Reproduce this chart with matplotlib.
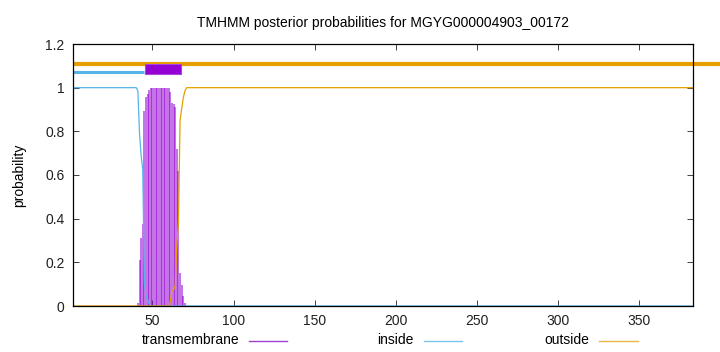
import numpy as np
import matplotlib
matplotlib.use("Agg")
import matplotlib.pyplot as plt
from matplotlib.patches import Rectangle

plt.rcParams['font.family'] = ['Liberation Sans', 'DejaVu Sans']

seq_len = 383
residues = np.arange(1, seq_len + 1)

# posterior probabilities (transition region only, runs elsewhere)
tm_vals = ([0.0] * 40 +
           [0.015, 0.21, 0.31, 0.375, 0.895, 0.956, 0.97, 0.99] +          # 41-48
           [1.0] * 12 +                                                   # 49-60
           [0.98, 0.93, 0.925, 0.91, 0.72, 0.62, 0.15, 0.096, 0.046, 0.015] +  # 61-70
           [0.0] * (seq_len - 70))
inside_vals = ([1.0] * 40 +
               [0.985, 0.79, 0.69, 0.625, 0.105, 0.044, 0.03, 0.01] +     # 41-48
               [0.0] * (seq_len - 48))
outside_vals = ([0.0] * 60 +
                [0.02, 0.07, 0.075, 0.09, 0.28, 0.38, 0.85, 0.904, 0.954, 0.985] +  # 61-70
                [1.0] * (seq_len - 70))

# predicted topology (start, end)
inside_seg = (1, 45)
tm_seg = (45.5, 67.5)
outside_seg = (1, 400)

tm_color = '#9400d3'
in_color = '#56b4e9'
out_color = '#e69f00'

fig = plt.figure(figsize=(7.2, 3.52), dpi=100)
ax = fig.add_axes([73 / 720, 46 / 352, 619.7 / 720, 262 / 352])

ax.vlines(residues, 0, tm_vals, color=tm_color, linewidth=1.2, alpha=0.65)
ax.plot(residues, inside_vals, color=in_color, linewidth=0.9)
ax.plot(residues, outside_vals, color=out_color, linewidth=0.9)

# topology bars on top
ax.plot(outside_seg, [1.11, 1.11], color=out_color, linewidth=3.0,
        solid_capstyle='butt', clip_on=False)
ax.plot(inside_seg, [1.07, 1.07], color=in_color, linewidth=2.2,
        solid_capstyle='butt')
ax.add_patch(Rectangle((tm_seg[0], 1.063), tm_seg[1] - tm_seg[0], 0.047,
                       facecolor=tm_color, edgecolor='#a845e0',
                       linewidth=0.8, zorder=5))

ax.set_xlim(1, seq_len)
ax.set_ylim(0, 1.2)
ax.set_xticks([50, 100, 150, 200, 250, 300, 350])
ax.set_yticks([0, 0.2, 0.4, 0.6, 0.8, 1.0, 1.2])
ax.set_yticklabels(['0', '0.2', '0.4', '0.6', '0.8', '1', '1.2'])
ax.tick_params(direction='in', length=4, width=0.6, top=True, right=True,
               labelsize=10, colors='#202020', pad=6)
for s in ax.spines.values():
    s.set_linewidth(0.9)
ax.set_ylabel('probability', fontsize=10, labelpad=14)
ax.set_title('TMHMM posterior probabilities for MGYG000004903_00172',
             fontsize=10, pad=12)

# legend drawn like gnuplot key below the axis
key_y = 1 - 340.5 / 352
for label, col, x_text, x0, x1 in [('transmembrane', '#a040d0', 239, 249, 287),
                                   ('inside', '#7cc4ec', 414, 424, 462),
                                   ('outside', '#ecb440', 589, 599, 638)]:
    fig.text(x_text / 720, key_y, label, ha='right', va='center', fontsize=10)
    fig.add_artist(plt.Line2D([x0 / 720, x1 / 720], [key_y, key_y],
                              color=col, linewidth=1.0))

fig.savefig('out.png', dpi=100)
